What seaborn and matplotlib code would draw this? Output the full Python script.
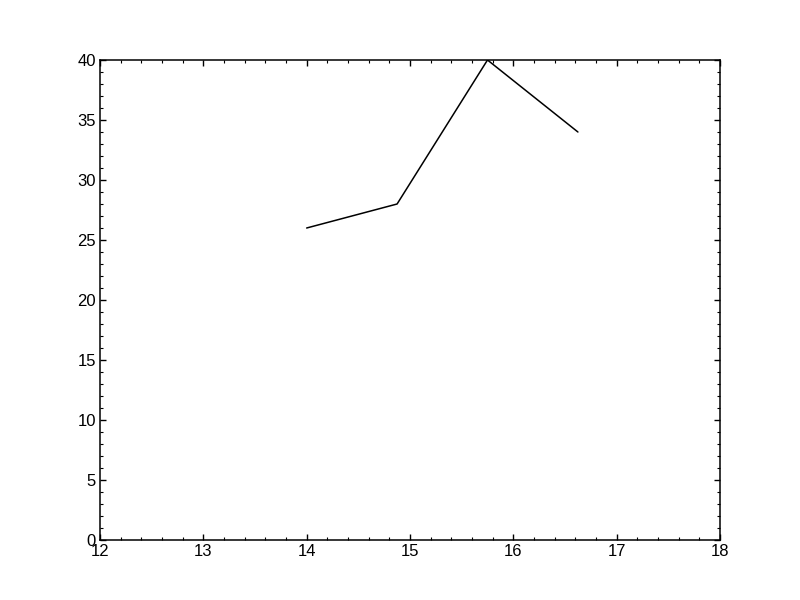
import matplotlib
matplotlib.use('Agg')
import matplotlib.pyplot as plt
import seaborn as sns
import pandas as pd
from matplotlib.ticker import MultipleLocator

# Data
x_vals = [14.0, 14.875, 15.75, 16.625]
y_vals = [26, 28, 40, 34]

df = pd.DataFrame({'x': x_vals, 'y': y_vals})

sns.set_style('ticks')
plt.rcParams['font.family'] = ['Liberation Sans', 'DejaVu Sans']

fig, ax = plt.subplots(figsize=(8, 6), dpi=100)
fig.subplots_adjust(left=0.125, right=0.9, bottom=0.1, top=0.9)

sns.lineplot(data=df, x='x', y='y', ax=ax, color='black', linewidth=1.1)

ax.set_xlim(12, 18)
ax.set_ylim(0, 40)
ax.xaxis.set_major_locator(MultipleLocator(1))
ax.xaxis.set_minor_locator(MultipleLocator(0.2))
ax.yaxis.set_major_locator(MultipleLocator(5))
ax.yaxis.set_minor_locator(MultipleLocator(1))
ax.tick_params(which='both', direction='in', top=True, right=True,
               labelsize=12, color='black', labelcolor='black', pad=3)
ax.tick_params(which='major', length=4.5, width=1)
ax.tick_params(which='minor', length=2.5, width=0.8)
for s in ax.spines.values():
    s.set_visible(True)
    s.set_color('black')
    s.set_linewidth(1.1)
ax.set_xlabel('')
ax.set_ylabel('')

fig.savefig('out.png', dpi=100)
